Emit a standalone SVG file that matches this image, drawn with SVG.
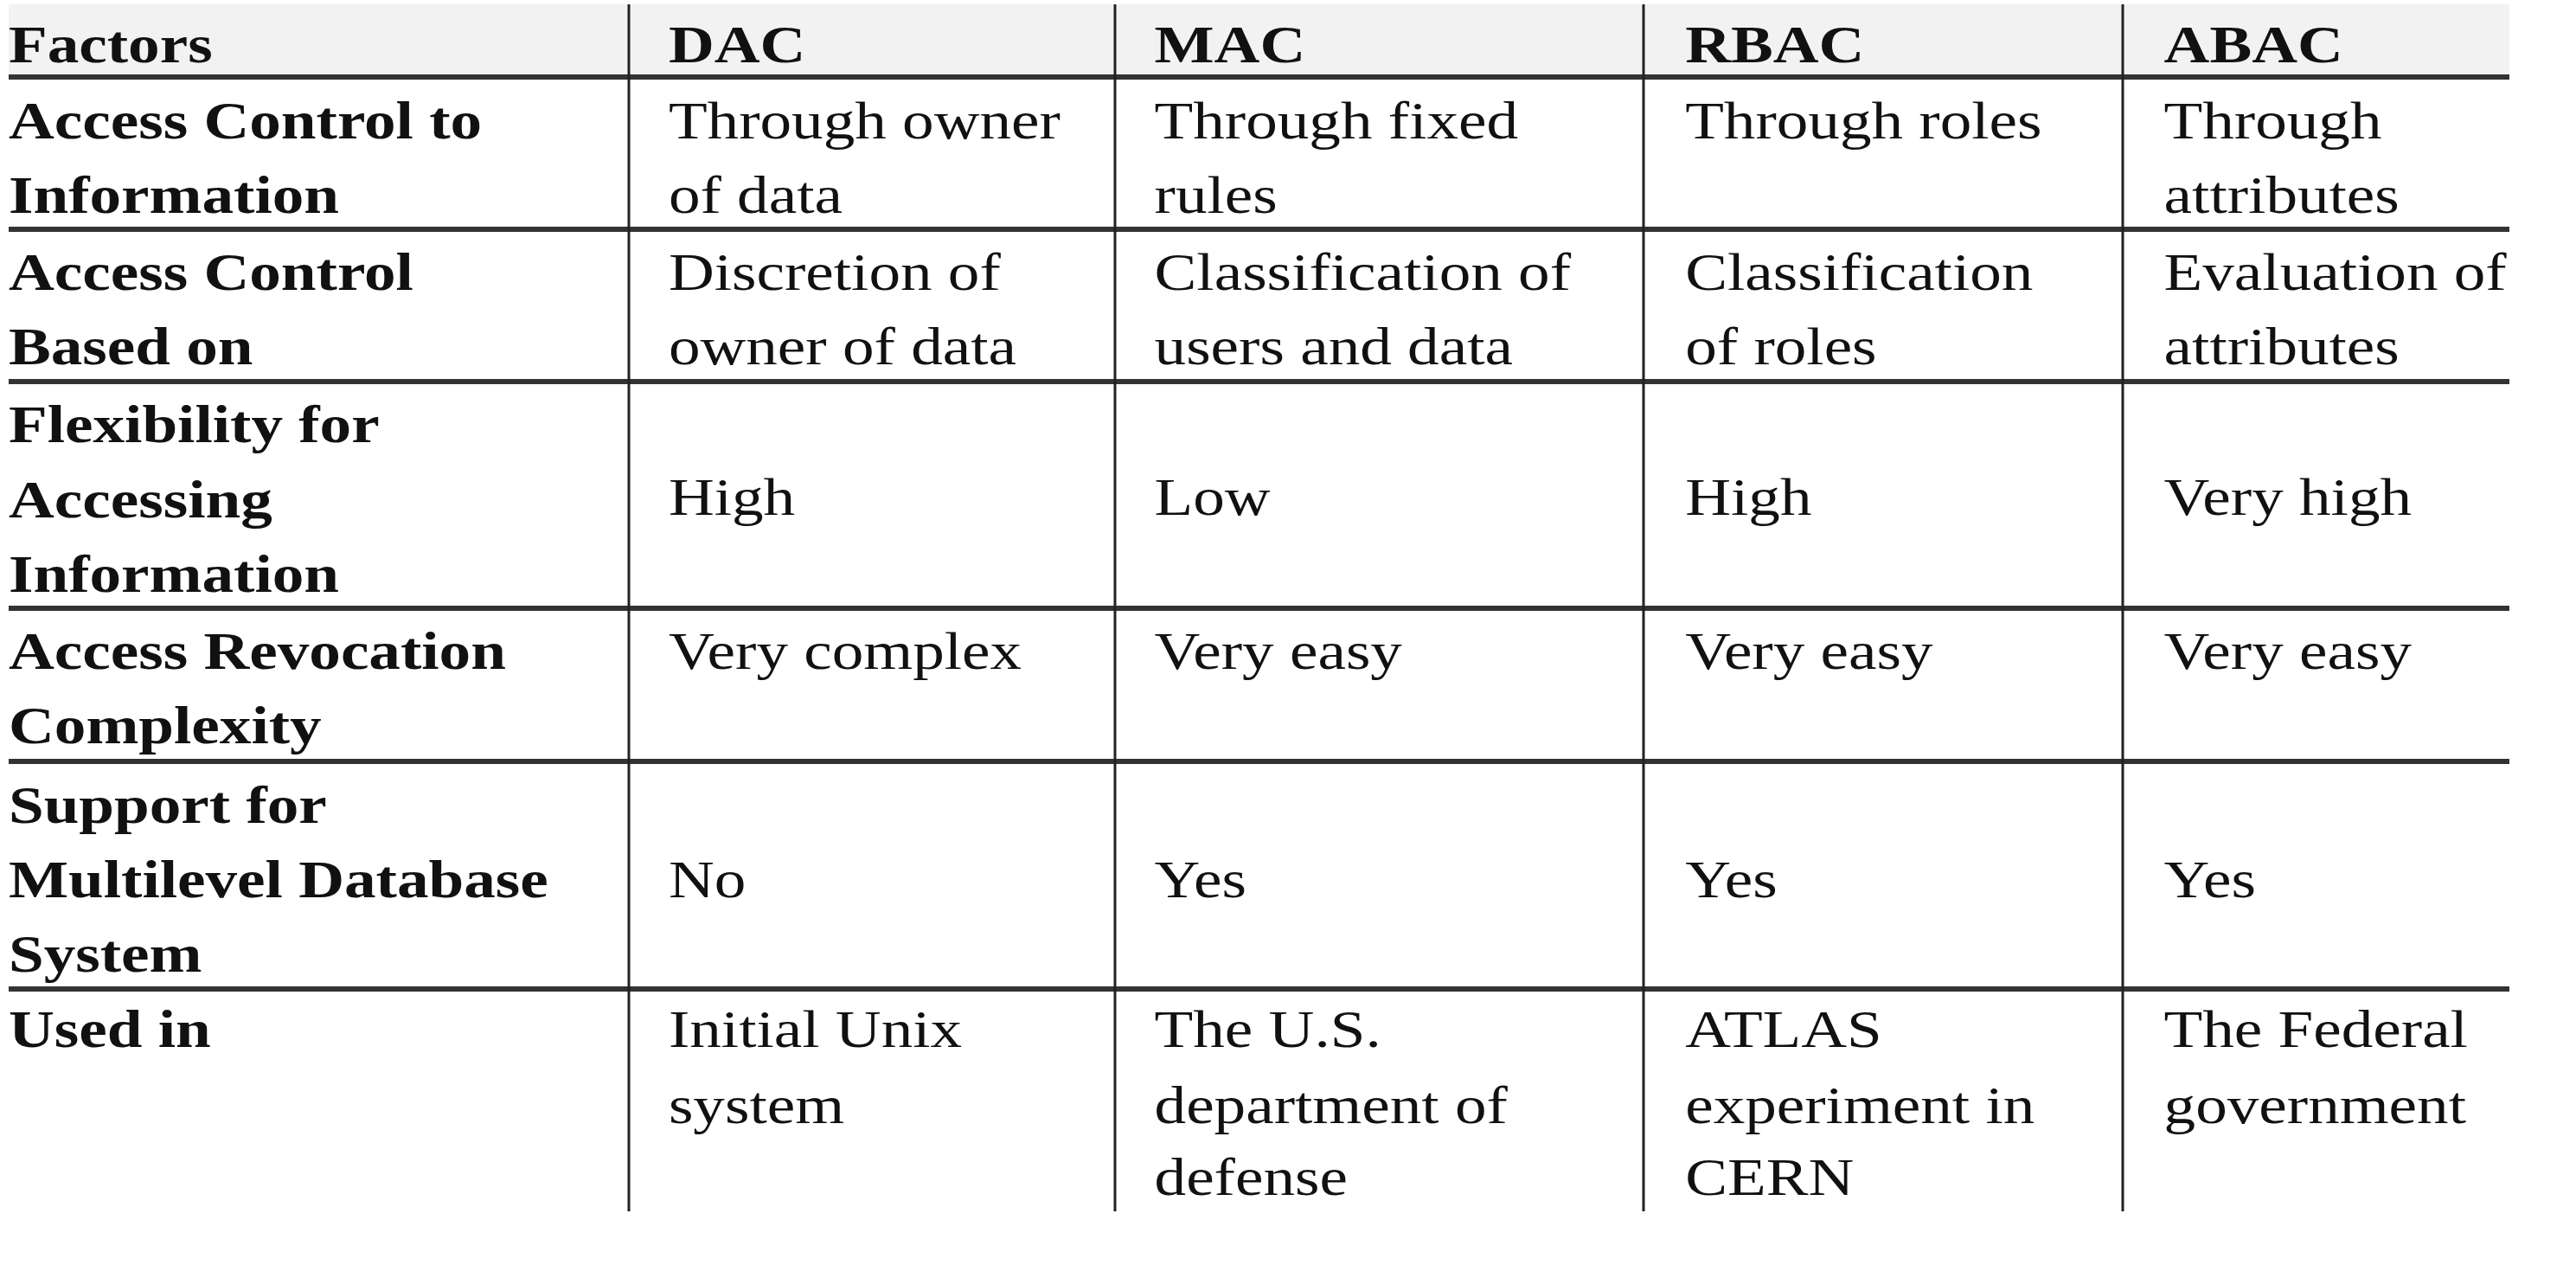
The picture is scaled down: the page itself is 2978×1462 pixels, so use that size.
<svg xmlns="http://www.w3.org/2000/svg" width="2978" height="1462" viewBox="0 0 2978 1462">
<style>
.t{font-family:"Liberation Serif","Times New Roman",serif;font-size:62px;fill:#111}
.b{font-weight:bold}
.h{stroke:#333;stroke-width:6}
.v{stroke:#222;stroke-width:3}
</style>
<rect width="2978" height="1462" fill="#fff"/>
<rect x="10" y="5" width="2891" height="84" fill="#f2f2f2"/>
<g id="grid">
<line class="h" x1="10" y1="89" x2="2901" y2="89"/>
<line class="h" x1="10" y1="265" x2="2901" y2="265"/>
<line class="h" x1="10" y1="441" x2="2901" y2="441"/>
<line class="h" x1="10" y1="703" x2="2901" y2="703"/>
<line class="h" x1="10" y1="880" x2="2901" y2="880"/>
<line class="h" x1="10" y1="1143" x2="2901" y2="1143"/>
<line class="v" x1="727" y1="5" x2="727" y2="1400"/>
<line class="v" x1="1289" y1="5" x2="1289" y2="1400"/>
<line class="v" x1="1900" y1="5" x2="1900" y2="1400"/>
<line class="v" x1="2454" y1="5" x2="2454" y2="1400"/>
</g>
<g id="texts" transform="scale(1.18 1)">
<g id="header" class="t b">
<text x="8.5" y="72">Factors</text>
<text x="655" y="72">DAC</text>
<text x="1131" y="72">MAC</text>
<text x="1651" y="72">RBAC</text>
<text x="2120" y="72">ABAC</text>
</g>
<g id="row1" class="t">
<text class="b" x="8.5" y="160">Access Control to</text>
<text class="b" x="8.5" y="246">Information</text>
<text x="655" y="160">Through owner</text><text x="655" y="246">of data</text>
<text x="1131" y="160">Through fixed</text><text x="1131" y="246">rules</text>
<text x="1651" y="160">Through roles</text>
<text x="2120" y="160">Through</text><text x="2120" y="246">attributes</text>
</g>
<g id="row2" class="t">
<text class="b" x="8.5" y="335">Access Control</text>
<text class="b" x="8.5" y="421">Based on</text>
<text x="655" y="335">Discretion of</text><text x="655" y="421">owner of data</text>
<text x="1131" y="335">Classification of</text><text x="1131" y="421">users and data</text>
<text x="1651" y="335">Classification</text><text x="1651" y="421">of roles</text>
<text x="2120" y="335">Evaluation of</text><text x="2120" y="421">attributes</text>
</g>
<g id="row3" class="t">
<text class="b" x="8.5" y="511">Flexibility for</text>
<text class="b" x="8.5" y="598">Accessing</text>
<text class="b" x="8.5" y="684">Information</text>
<text x="655" y="595">High</text>
<text x="1131" y="595">Low</text>
<text x="1651" y="595">High</text>
<text x="2120" y="595">Very high</text>
</g>
<g id="row4" class="t">
<text class="b" x="8.5" y="773">Access Revocation</text>
<text class="b" x="8.5" y="859">Complexity</text>
<text x="655" y="773">Very complex</text>
<text x="1131" y="773">Very easy</text>
<text x="1651" y="773">Very easy</text>
<text x="2120" y="773">Very easy</text>
</g>
<g id="row5" class="t">
<text class="b" x="8.5" y="951">Support for</text>
<text class="b" x="8.5" y="1037">Multilevel Database</text>
<text class="b" x="8.5" y="1123">System</text>
<text x="655" y="1037">No</text>
<text x="1131" y="1037">Yes</text>
<text x="1651" y="1037">Yes</text>
<text x="2120" y="1037">Yes</text>
</g>
<g id="row6" class="t">
<text class="b" x="8.5" y="1210">Used in</text>
<text x="655" y="1210">Initial Unix</text><text x="655" y="1298">system</text>
<text x="1131" y="1210">The U.S.</text><text x="1131" y="1298">department of</text><text x="1131" y="1381">defense</text>
<text x="1651" y="1210">ATLAS</text><text x="1651" y="1298">experiment in</text><text x="1651" y="1381">CERN</text>
<text x="2120" y="1210">The Federal</text><text x="2120" y="1298">government</text>
</g>
</g>
</svg>
